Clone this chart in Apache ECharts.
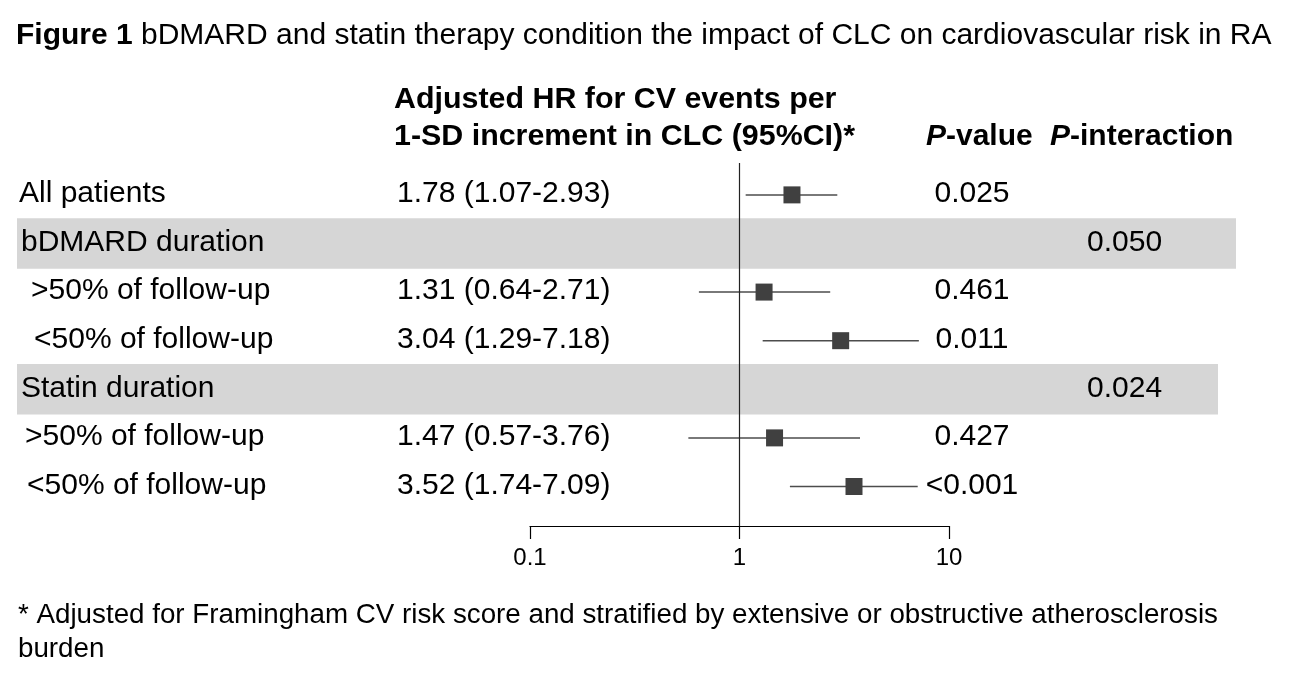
<!DOCTYPE html>
<html><head><meta charset="utf-8">
<script src="https://cdn.jsdelivr.net/npm/echarts/dist/echarts.min.js"></script>
<style>html,body{margin:0;padding:0;background:#fff}#c{width:1294px;height:690px}</style>
</head><body><div id="c"></div>
<script>
// ---- data ----
const rowLabels = ['All patients', 'bDMARD duration', '>50% of follow-up', '<50% of follow-up', 'Statin duration', '>50% of follow-up', '<50% of follow-up'];
const hrLabels = ['1.78 (1.07-2.93)', '', '1.31 (0.64-2.71)', '3.04 (1.29-7.18)', '', '1.47 (0.57-3.76)', '3.52 (1.74-7.09)'];
const hr = [1.78, null, 1.31, 3.04, null, 1.47, 3.52];
const ciLow = [1.07, null, 0.64, 1.29, null, 0.57, 1.74];
const ciHigh = [2.93, null, 2.71, 7.18, null, 3.76, 7.09];
const pValues = ['0.025', '', '0.461', '0.011', '', '0.427', '<0.001'];
const pInteraction = ['', '0.050', '', '', '0.024', '', ''];
const groupRows = [1, 4];
const xTicks = [0.1, 1, 10];
const titleText = ['Figure 1', ' bDMARD and statin therapy condition the impact of CLC on cardiovascular risk in RA'];
const headerLines = ['Adjusted HR for CV events per', '1-SD increment in CLC (95%CI)*'];
const footnote = ['* Adjusted for Framingham CV risk score and stratified by extensive or obstructive atherosclerosis', 'burden'];

// ---- layout ----
const FONT = '"Liberation Sans", Arial, Helvetica, sans-serif';
const FS = 30;
const HFS = 30.4;
const labelIndent = [0, 2, 12, 15, 2, 6, 8];
const chart = echarts.init(document.getElementById('c'), null, {renderer: 'canvas'});

const rowIdx = rowLabels.map((_, i) => i);
const estRows = rowIdx.filter(i => hr[i] != null);

function textCol(getText, getX, align) {
  return {
    type: 'custom', coordinateSystem: 'cartesian2d', silent: true, z: 5,
    data: rowIdx.map(i => [1, i]),
    encode: {x: 0, y: 1},
    renderItem: function (params, api) {
      const i = params.dataIndex;
      const t = getText(i);
      if (!t) return null;
      const y = api.coord([1, i])[1] - 1;
      return {type: 'text', x: getX(i), y: y,
        style: {text: t, fill: '#000', fontSize: FS, fontFamily: FONT, align: align || 'left', verticalAlign: 'middle'}};
    }
  };
}

const boldRich = {
  i: {fontStyle: 'italic', fontWeight: 'bold', fontSize: FS, fontFamily: FONT, fill: '#000'},
  b: {fontWeight: 'bold', fontSize: FS, fontFamily: FONT, fill: '#000'}
};

const option = {
  animation: false,
  backgroundColor: '#fff',
  grid: {left: 530, width: 419, top: 163, height: 363, containLabel: false},
  xAxis: {
    type: 'log', logBase: 10, min: xTicks[0], max: xTicks[xTicks.length - 1],
    axisLine: {show: true, onZero: false, lineStyle: {color: '#000', width: 1.2}},
    axisTick: {show: true, length: 13, lineStyle: {color: '#000', width: 1.2}},
    axisLabel: {show: true, color: '#000', fontSize: 24, fontFamily: FONT, margin: 20,
      formatter: v => String(+(+v).toPrecision(3))},
    splitLine: {show: false}, minorTick: {show: false}
  },
  yAxis: {type: 'value', inverse: true, min: -0.656, max: 6.813, show: false, splitLine: {show: false}},
  graphic: [
    {type: 'text', x: 16, y: 36, style: {text: '{b|' + titleText[0] + '}{n|' + titleText[1] + '}', fontSize: FS, fontFamily: FONT, fill: '#000', verticalAlign: 'middle',
      rich: {b: {fontWeight: 'bold', fontSize: FS, fontFamily: FONT, fill: '#000'}, n: {fontSize: FS, fontFamily: FONT, fill: '#000'}}}},
    {type: 'text', x: 394, y: 100, style: {text: headerLines[0], fontSize: HFS, fontWeight: 'bold', fontFamily: FONT, fill: '#000', verticalAlign: 'middle'}},
    {type: 'text', x: 394, y: 137, style: {text: headerLines[1], fontSize: HFS, fontWeight: 'bold', fontFamily: FONT, fill: '#000', verticalAlign: 'middle'}},
    {type: 'text', x: 926, y: 137, style: {text: '{i|P}{b|-value}', fontSize: FS, fontFamily: FONT, fill: '#000', verticalAlign: 'middle', rich: boldRich}},
    {type: 'text', x: 1050, y: 137, style: {text: '{i|P}{b|-interaction}', fontSize: FS, fontFamily: FONT, fill: '#000', verticalAlign: 'middle', rich: boldRich}},
    {type: 'text', x: 18, y: 615, style: {text: footnote[0], fontSize: 27.75, fontFamily: FONT, fill: '#000', verticalAlign: 'middle'}},
    {type: 'text', x: 18, y: 649, style: {text: footnote[1], fontSize: 27.75, fontFamily: FONT, fill: '#000', verticalAlign: 'middle'}}
  ],
  series: [
    // group bands
    {
      type: 'custom', coordinateSystem: 'cartesian2d', silent: true, z: 0,
      data: groupRows.map(i => [1, i]), encode: {x: 0, y: 1},
      renderItem: function (params, api) {
        const i = api.value(1);
        const y0 = api.coord([1, i - 0.52])[1];
        const y1 = api.coord([1, i + 0.52])[1];
        const right = params.dataIndex === 0 ? 1236 : 1218;
        return {type: 'rect', shape: {x: 17, y: y0, width: right - 17, height: y1 - y0}, style: {fill: '#d6d6d6'}};
      }
    },
    // CI lines
    {
      type: 'custom', coordinateSystem: 'cartesian2d', silent: true, z: 3,
      data: estRows.map(i => [ciLow[i], i, ciHigh[i]]), encode: {x: [0, 2], y: 1},
      renderItem: function (params, api) {
        const a = api.coord([api.value(0), api.value(1)]);
        const b = api.coord([api.value(2), api.value(1)]);
        return {type: 'line', shape: {x1: a[0], y1: a[1], x2: b[0], y2: b[1]}, style: {stroke: '#4d4d4d', lineWidth: 1.5}};
      }
    },
    // point estimates
    {
      type: 'scatter', symbol: 'rect', symbolSize: 17, z: 4, silent: true,
      itemStyle: {color: '#404040', opacity: 1},
      data: estRows.map(i => [hr[i], i]),
      markLine: {silent: true, symbol: ['none', 'none'], label: {show: false},
        lineStyle: {color: '#222', width: 1.2, type: 'solid', opacity: 1},
        data: [{xAxis: 1}]}
    },
    textCol(i => rowLabels[i], i => 19 + labelIndent[i]),
    textCol(i => hrLabels[i], () => 397),
    textCol(i => pValues[i], () => 972, 'center'),
    textCol(i => pInteraction[i], () => 1087)
  ]
};
chart.setOption(option);
</script>
</body></html>
